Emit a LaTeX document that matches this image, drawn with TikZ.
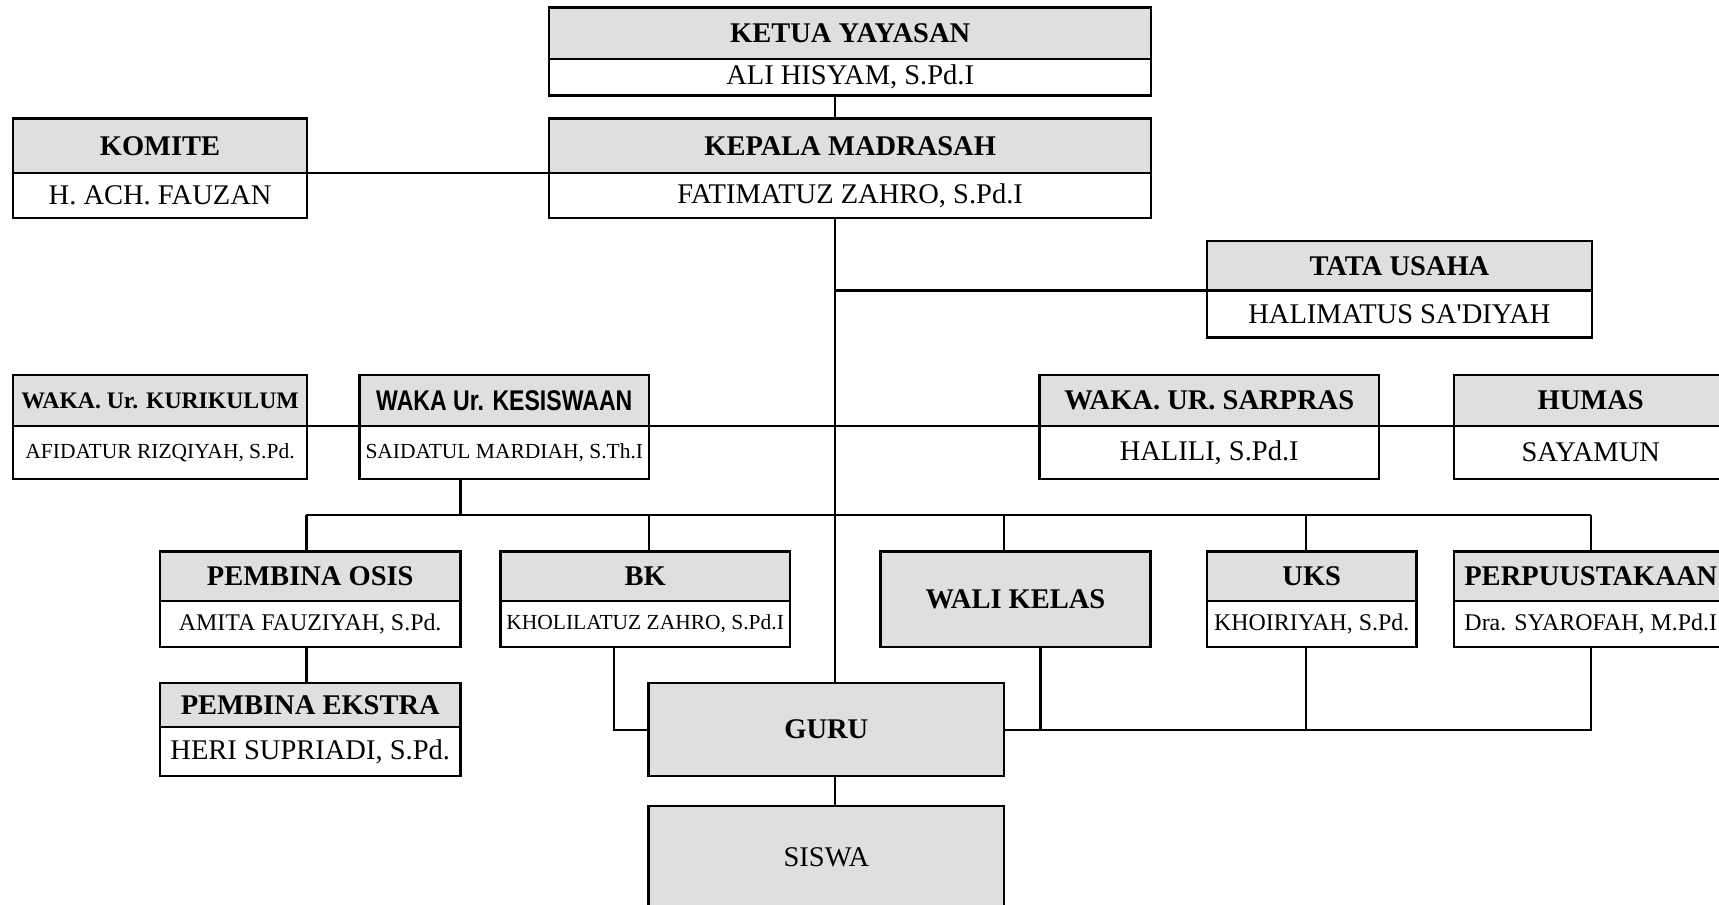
\documentclass[tikz,border=0pt]{standalone}
\usepackage{fontspec}
\setmainfont{Liberation Serif}[Ligatures=TeXOff]
\newfontfamily\arialf{Liberation Sans}
\definecolor{hdgray}{RGB}{223,223,223}
\tikzset{
  bx/.style={draw=black, line width=1.1pt, inner sep=0pt, outer sep=0pt, align=center},
  hd/.style={bx, fill=hdgray, font=\fontsize{13}{15}\selectfont\bfseries},
  hdM/.style={bx, fill=hdgray, font=\fontsize{10.8}{12}\selectfont\bfseries},
  hdSans/.style={bx, fill=hdgray, font=\arialf\fontsize{13}{15}\selectfont\bfseries},
  hdR/.style={bx, fill=hdgray, font=\fontsize{13}{15}\selectfont},
  nm/.style={bx, fill=white, font=\fontsize{13}{15}\selectfont},
  nmM/.style={bx, fill=white, font=\fontsize{10.9}{12}\selectfont},
  nmS/.style={bx, fill=white, font=\fontsize{9.8}{11}\selectfont},
  ln/.style={draw=black, line width=1pt},
}
% style, name, x1, y1, x2, y2, text
\newcommand{\orgbox}[7]{%
  \node[#1, minimum width={(#5-#3)*0.5pt}, minimum height={(#6-#4)*0.5pt}]
    (#2) at ({(#3+#5)/2},{(#4+#6)/2}) {#7};}
\begin{document}
\begin{tikzpicture}[x=0.5pt,y=-0.5pt]
\useasboundingbox (0,0) rectangle (1568,825);
\clip (0,0) rectangle (1568,825);
\fill[white] (0,0) rectangle (1568,825);

% top
\orgbox{hd}{ketua}{501}{7}{1050}{54}{KETUA YAYASAN}
\orgbox{nm}{ketuaN}{501}{54}{1050}{87}{ALI HISYAM, S.Pd.I}
\orgbox{hd}{kepala}{501}{108}{1050}{158}{KEPALA MADRASAH}
\orgbox{nm}{kepalaN}{501}{158}{1050}{199}{FATIMATUZ ZAHRO, S.Pd.I}
\orgbox{hd}{komite}{12}{108}{280}{158}{KOMITE}
\orgbox{nm}{komiteN}{12}{158}{280}{199}{H. ACH. FAUZAN}
\orgbox{hd}{tata}{1101}{220}{1452}{265}{TATA USAHA}
\orgbox{nm}{tataN}{1101}{265}{1452}{308}{HALIMATUS SA'DIYAH}

% waka row
\orgbox{hdM}{kur}{12}{342}{280}{388.5}{WAKA. Ur. KURIKULUM}
\orgbox{nmS}{kurN}{12}{388.5}{280}{437}{AFIDATUR RIZQIYAH, S.Pd.}
\orgbox{hdSans}{kes}{328}{342}{592}{388.5}{\scalebox{0.81}[1]{WAKA Ur. KESISWAAN}}
\orgbox{nmS}{kesN}{328}{388.5}{592}{437}{SAIDATUL MARDIAH, S.Th.I}
\orgbox{hd}{sar}{948}{342}{1258}{388.5}{WAKA. UR. SARPRAS}
\orgbox{nm}{sarN}{948}{388.5}{1258}{437}{HALILI, S.Pd.I}
\orgbox{hd}{hum}{1326}{342}{1576}{388.5}{HUMAS}
\orgbox{nm}{humN}{1326}{388.5}{1576}{437}{SAYAMUN}

% lower row
\orgbox{hd}{osis}{146}{503}{420}{548}{PEMBINA OSIS}
\orgbox{nmM}{osisN}{146}{548}{420}{590}{AMITA FAUZIYAH, S.Pd.}
\orgbox{hd}{bk}{456.5}{503}{720.5}{548}{BK}
\orgbox{nmS}{bkN}{456.5}{548}{720.5}{590}{KHOLILATUZ ZAHRO, S.Pd.I}
\orgbox{hd}{wali}{803}{503}{1049.5}{590}{WALI KELAS}
\orgbox{hd}{uks}{1101}{503}{1292}{548}{UKS}
\orgbox{nmM}{uksN}{1101}{548}{1292}{590}{KHOIRIYAH, S.Pd.}
\orgbox{hd}{perp}{1326}{503}{1576}{548}{PERPUUSTAKAAN}
\orgbox{nmM}{perpN}{1326}{548}{1576}{590}{Dra. SYAROFAH, M.Pd.I}

\orgbox{hd}{ekstra}{146}{623}{420}{663}{PEMBINA EKSTRA}
\orgbox{nm}{ekstraN}{146}{663}{420}{708}{HERI SUPRIADI, S.Pd.}
\orgbox{hd}{guru}{591.5}{623}{916}{708}{GURU}
\orgbox{hdR}{siswa}{591.5}{735}{916}{829}{SISWA}

% helper coordinates
\coordinate (trk) at (762,0);
\coordinate (kd) at (420,470);
\coordinate (b1) at (279.5,470);
\coordinate (b2) at (592,470);
\coordinate (b3) at (916,470);
\coordinate (b4) at (1191,470);
\coordinate (b5) at (1451,470);
\coordinate (bkd) at (560,0);
\coordinate (wd) at (949,0);
\coordinate (ud) at (1191,0);

% connectors
\draw[ln] (ketuaN.south -| trk) -- (kepala.north -| trk);
\draw[ln] (komite.south east) -- (kepala.south west);
\draw[ln] (kepalaN.south -| trk) -- (guru.north -| trk);
\draw[ln] (tata.south west -| trk) -- (tata.south west);
\draw[ln] (kur.south east) -- (kes.south west);
\draw[ln] (kes.south east) -- (sar.south west);
\draw[ln] (sar.south east) -- (hum.south west);
\draw[ln] (kesN.south -| kd) -- (kd);
\draw[ln] (b1) -- (b5);
\draw[ln] (b1) -- (osis.north -| b1);
\draw[ln] (b2) -- (bk.north -| b2);
\draw[ln] (b3) -- (wali.north -| b3);
\draw[ln] (b4) -- (uks.north -| b4);
\draw[ln] (b5) -- (perp.north -| b5);
\draw[ln] (osisN.south -| b1) -- (ekstra.north -| b1);
\draw[ln] (bkN.south -| bkd) |- (guru.west);
\draw[ln] (guru.east) -| (perpN.south);
\draw[ln] (wali.south -| wd) -- (guru.east -| wd);
\draw[ln] (uksN.south -| ud) -- (guru.east -| ud);
\draw[ln] (guru.south -| trk) -- (siswa.north -| trk);
\end{tikzpicture}
\end{document}
